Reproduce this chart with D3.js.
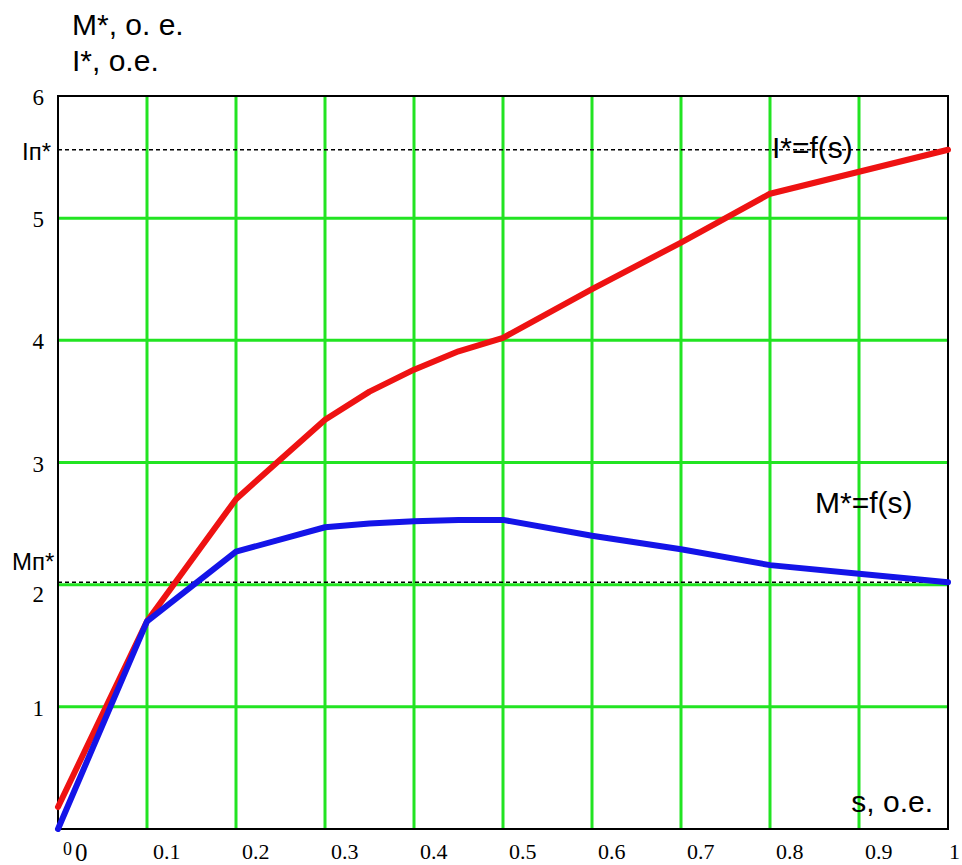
<!DOCTYPE html>
<html>
<head>
<meta charset="utf-8">
<script src="https://cdn.jsdelivr.net/npm/d3@7"></script>
<style>
  body { margin: 0; background: #fff; }
  .sans { font-family: "Liberation Sans", Arial, sans-serif; fill: #000; }
  .tick-lbl { font-family: "Liberation Serif", "Times New Roman", serif; fill: #000; }
</style>
</head>
<body>
<div id="chart"></div>
<script>
// slip values, o.e.
var sValues = [0, 0.1, 0.2, 0.3, 0.35, 0.4, 0.45, 0.5, 0.6, 0.7, 0.8, 0.9, 1.0];
// current I* = f(s)
var currentValues = [0.18, 1.70, 2.70, 3.35, 3.58, 3.76, 3.91, 4.02, 4.42, 4.80, 5.20, 5.38, 5.56];
// torque M* = f(s)
var torqueValues = [0, 1.70, 2.27, 2.47, 2.50, 2.52, 2.53, 2.53, 2.40, 2.29, 2.16, 2.09, 2.02];

var xTicks = [0.1, 0.2, 0.3, 0.4, 0.5, 0.6, 0.7, 0.8, 0.9, 1];
var xTickLabels = ["0.1", "0.2", "0.3", "0.4", "0.5", "0.6", "0.7", "0.8", "0.9", "1"];
var yTicks = [1, 2, 3, 4, 5, 6];
var startCurrent = 5.56;   // I_п*
var startTorque = 2.02;    // M_п*

var width = 962;
var height = 865;
var margin = {top: 96, left: 58, right: 14, bottom: 36};

var svg = d3.select("#chart")
  .append("svg")
  .attr("width", width)
  .attr("height", height);

var xScale = d3.scaleLinear()
  .domain([0, 1])
  .range([margin.left, width - margin.right]);

var yScale = d3.scaleLinear()
  .domain([0, 6])
  .range([height - margin.bottom, margin.top]);

// green grid
svg.append("g")
  .selectAll("line")
  .data(xTicks.filter(function(d) { return d < 1; }))
  .enter()
  .append("line")
    .attr("x1", function(d) { return xScale(d); })
    .attr("x2", function(d) { return xScale(d); })
    .attr("y1", yScale(0))
    .attr("y2", yScale(6))
    .attr("stroke", "#22e422")
    .attr("stroke-width", 3);

svg.append("g")
  .selectAll("line")
  .data(yTicks.filter(function(d) { return d < 6; }))
  .enter()
  .append("line")
    .attr("x1", xScale(0))
    .attr("x2", xScale(1))
    .attr("y1", function(d) { return yScale(d); })
    .attr("y2", function(d) { return yScale(d); })
    .attr("stroke", "#22e422")
    .attr("stroke-width", 3);

// frame
svg.append("rect")
  .attr("x", xScale(0))
  .attr("y", yScale(6))
  .attr("width", xScale(1) - xScale(0))
  .attr("height", yScale(0) - yScale(6))
  .attr("fill", "none")
  .attr("stroke", "#000")
  .attr("stroke-width", 2);

// dashed start lines
svg.append("g")
  .selectAll("line")
  .data([startCurrent, startTorque])
  .enter()
  .append("line")
    .attr("x1", xScale(0))
    .attr("x2", xScale(1))
    .attr("y1", function(d) { return yScale(d); })
    .attr("y2", function(d) { return yScale(d); })
    .attr("stroke", "#000")
    .attr("stroke-width", 1.5)
    .attr("stroke-dasharray", "4,3");

// curves
var line = d3.line()
  .x(function(d) { return xScale(d[0]); })
  .y(function(d) { return yScale(d[1]); });

svg.append("path")
  .datum(d3.zip(sValues, currentValues))
  .attr("d", line)
  .attr("fill", "none")
  .attr("stroke", "#ee1212")
  .attr("stroke-width", 6)
  .attr("stroke-linejoin", "round")
  .attr("stroke-linecap", "round");

svg.append("path")
  .datum(d3.zip(sValues, torqueValues))
  .attr("d", line)
  .attr("fill", "none")
  .attr("stroke", "#1414e8")
  .attr("stroke-width", 6)
  .attr("stroke-linejoin", "round")
  .attr("stroke-linecap", "round");

// x tick labels (Mathcad puts them just right of the grid line)
svg.append("g")
  .selectAll("text")
  .data(xTicks)
  .enter()
  .append("text")
    .attr("class", "tick-lbl")
    .attr("x", function(d) { return Math.min(xScale(d) + 6, width - 13); })
    .attr("y", yScale(0) + 30)
    .attr("font-size", 22)
    .text(function(d, i) { return xTickLabels[i]; });

svg.append("text")
  .attr("class", "tick-lbl")
  .attr("x", xScale(0) + 17)
  .attr("y", yScale(0) + 32)
  .attr("font-size", 25)
  .text("0");

// y tick labels
svg.append("g")
  .selectAll("text")
  .data(yTicks)
  .enter()
  .append("text")
    .attr("class", "tick-lbl")
    .attr("x", xScale(0) - 14)
    .attr("y", function(d) { return yScale(d) + (d === 2 ? 17 : 9); })
    .attr("text-anchor", "end")
    .attr("font-size", 23)
    .text(function(d) { return d; });

svg.append("text")
  .attr("class", "tick-lbl")
  .attr("x", xScale(0) + 5)
  .attr("y", yScale(0) + 26)
  .attr("font-size", 18)
  .text("0");

// axis titles
svg.append("text")
  .attr("class", "sans")
  .attr("x", 72)
  .attr("y", 35)
  .attr("font-size", 30)
  .text("M*, o. e.");

svg.append("text")
  .attr("class", "sans")
  .attr("x", 72)
  .attr("y", 71)
  .attr("font-size", 30)
  .text("I*, o.e.");

svg.append("text")
  .attr("class", "sans")
  .attr("x", xScale(1) - 15)
  .attr("y", yScale(0) - 17)
  .attr("text-anchor", "end")
  .attr("font-size", 30)
  .text("s, o.e.");

// curve labels
svg.append("text")
  .attr("class", "sans")
  .attr("x", 772)
  .attr("y", 158)
  .attr("font-size", 30)
  .text("I*=f(s)");

svg.append("text")
  .attr("class", "sans")
  .attr("x", 815)
  .attr("y", 513)
  .attr("font-size", 30)
  .text("M*=f(s)");

// start value labels
svg.append("text")
  .attr("class", "sans")
  .attr("x", 22)
  .attr("y", yScale(startCurrent) + 10)
  .attr("font-size", 24)
  .text("Iп*");

svg.append("text")
  .attr("class", "sans")
  .attr("x", 12)
  .attr("y", yScale(startTorque) - 12)
  .attr("font-size", 24)
  .text("Mп*");
</script>
</body>
</html>
